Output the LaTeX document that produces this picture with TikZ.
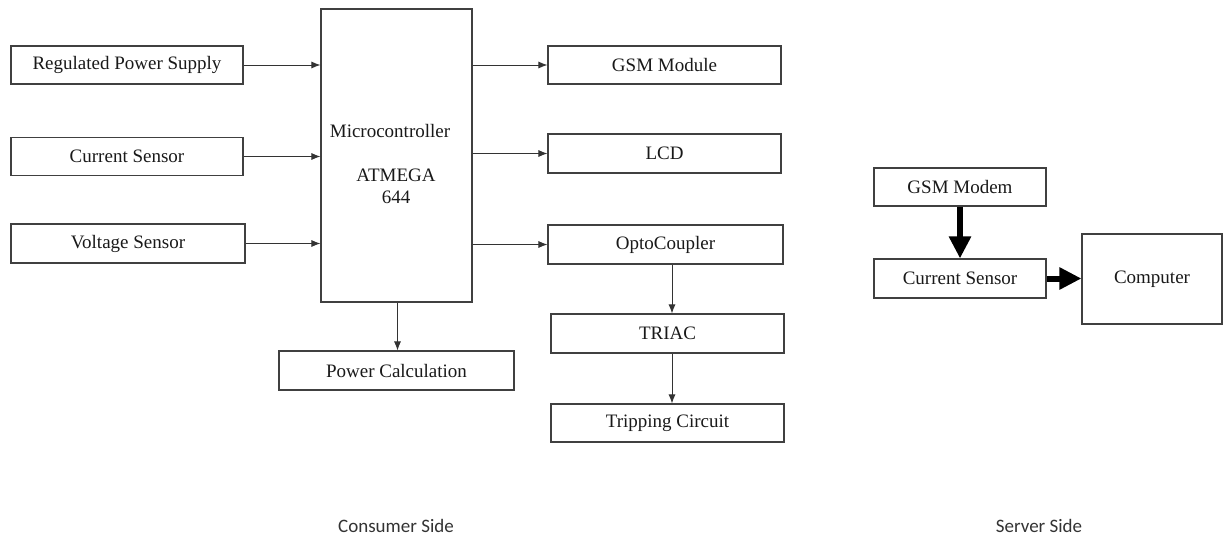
\documentclass[tikz,border=0pt]{standalone}
\usepackage{fontspec}
\setmainfont{Liberation Serif}
\newfontfamily\sidefont{Carlito}
\usetikzlibrary{arrows.meta}
\begin{document}
\begin{tikzpicture}[x=1pt,y=-1pt,
  box/.style={draw=black!75,line width=1.1pt,inner sep=0pt,
    font=\fontsize{19}{22}\selectfont,text=black!90},
  plain/.style={inner sep=0pt,font=\fontsize{19}{22}\selectfont,text=black!90},
  sidelabel/.style={inner sep=0pt,font=\sidefont\fontsize{19}{22}\selectfont,text=black!80},
  arr/.style={draw=black!80,line width=0.9pt,-{Latex[length=9pt,width=7pt]}},
  thick arr/.style={draw=black,line width=6pt,-{Triangle[length=22pt,width=21pt]}}
]
\useasboundingbox (0,0) rectangle (1223,538);

% consumer side
\node[box,minimum width=232pt,minimum height=38pt] (rps) at (127,65) {Regulated Power Supply};
\node[box,minimum width=232pt,minimum height=38pt] (cs) at (127,156.5) {Current Sensor};
\node[box,minimum width=234pt,minimum height=39pt] (vs) at (128,243.5) {Voltage Sensor};
\node[box,minimum width=151pt,minimum height=293pt] (mc) at (396.5,155.5) {};
\node[plain] (mctxt) at (390,131) {Microcontroller};
\node[plain,align=center] (atm) at (396,186) {ATMEGA\\644};
\node[box,minimum width=233pt,minimum height=38pt] (gsm) at (664.5,65) {GSM Module};
\node[box,minimum width=233pt,minimum height=39pt] (lcd) at (664.5,153.5) {LCD};
\node[box,minimum width=235pt,minimum height=39pt] (opto) at (665.5,244.5) {OptoCoupler};
\node[box,minimum width=233pt,minimum height=39pt] (triac) at (667.5,333.5) {TRIAC};
\node[box,minimum width=233pt,minimum height=38pt] (trip) at (667.5,423) {Tripping Circuit};
\node[box,minimum width=235pt,minimum height=39pt] (pc) at (396.5,370.5) {Power Calculation};

\draw[arr] (rps.east) -- (rps.east -| mc.west);
\draw[arr] (cs.east) -- (cs.east -| mc.west);
\draw[arr] (vs.east) -- (vs.east -| mc.west);
\draw[arr] (mc.east |- gsm.west) -- (gsm.west);
\draw[arr] (mc.east |- lcd.west) -- (lcd.west);
\draw[arr] (mc.east |- opto.west) -- (opto.west);
\draw[arr] ([xshift=6.5pt]opto.south) -- ([xshift=6.5pt]opto.south |- triac.north);
\draw[arr] ([xshift=4.5pt]triac.south) -- ([xshift=4.5pt]trip.north);
\draw[arr] ([xshift=1pt]mc.south) -- ([xshift=1pt]mc.south |- pc.north);

% server side
\node[box,minimum width=172pt,minimum height=38pt] (modem) at (960,187) {GSM Modem};
\node[box,minimum width=172pt,minimum height=39pt] (cs2) at (960,278.5) {Current Sensor};
\node[box,minimum width=140pt,minimum height=90pt] (comp) at (1152,279) {Computer};

\draw[thick arr] (modem.south) -- (cs2.north);
\draw[thick arr] (cs2.east) -- (cs2.east -| comp.west);

\node[sidelabel] (consumer) at (396,526) {Consumer Side};
\node[sidelabel] (server) at (1039,526) {Server Side};
\end{tikzpicture}
\end{document}
